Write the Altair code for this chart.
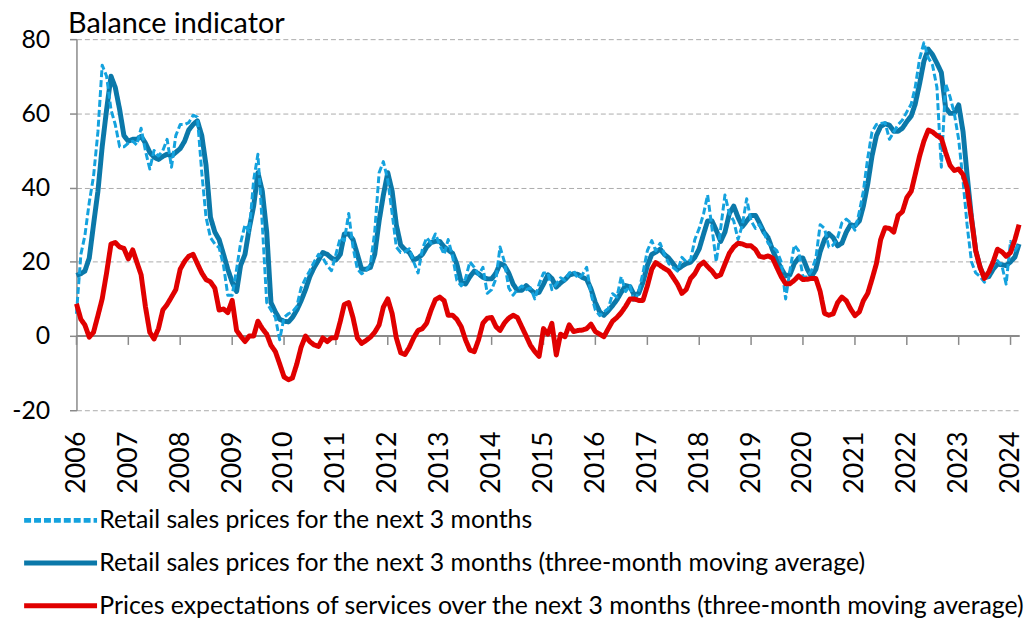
import altair as alt
import pandas as pd

# ---- data (monthly, Jan 2006 - Mar 2024) ----
years = list(range(2006, 2025))
series_labels = [
    "Retail sales prices for the next 3 months",
    "Retail sales prices for the next 3 months (three-month moving average)",
    "Prices expectations of services over the next 3 months (three-month moving average)",
]

retail_raw = [
    6, 22, 27, 36, 43, 55, 73, 70, 61, 57, 51, 51,
    52, 52.5, 51.5, 56, 50, 45, 50, 48.5, 50, 53, 45.5, 54,
    57, 57, 57.5, 59.5, 59, 44, 32, 26.5, 24.8, 23.8, 19, 11,
    11, 18, 25, 30, 28, 42, 49, 30, 9, 7, 5, -1,
    5, 6, 6.5, 8, 13, 15.5, 17.6, 20, 22, 21, 19, 17.6,
    22, 26.5, 25.7, 33, 24, 18, 16.8, 17.6, 19.4, 28, 44, 47,
    42, 33, 24, 22.5, 22.7, 23.5, 20, 17, 23.5, 26.5, 25, 27.5,
    24.5, 22, 26, 21.5, 15, 13.5, 15.5, 20, 18.5, 16.5, 18.5, 11.5,
    12.5, 15.5, 24, 20, 13, 11, 12.5, 13.5, 12.5, 13, 10, 14,
    17, 17, 12.5, 14, 15.7, 15, 17, 17.5, 15.5, 16.5, 18.5, 11.4,
    7, 5.5, 6.5, 7.4, 11.4, 10.5, 16, 12, 13.6, 9, 12, 17,
    23, 25.7, 23, 25, 22, 19.5, 18.5, 17.5, 21.2, 20, 20.5, 26,
    29, 33, 38, 29, 20, 29, 38, 33, 31, 26, 30, 37,
    31, 29, 30, 28, 25, 24, 23, 20, 10, 17.6, 24.5, 23,
    16, 15.9, 17.6, 21, 30, 29, 24, 24.5, 26.5, 30.5, 31.5, 30.5,
    28.5, 33.5, 39, 48, 55, 57, 57.3, 57.5, 53, 55, 57, 58.2,
    60.4, 62.5, 67, 74.7, 79, 75, 73, 67, 45.5, 68, 64.5, 60,
    53, 41.7, 30, 20, 17, 16, 14.5, 16.5, 19, 20.3, 19, 14,
    25.5, 23, 25,
]

retail_ma = [
    16.3, 16.8, 17.5, 21, 30, 39, 51, 61, 70, 67, 61, 54,
    52.5, 53, 53, 53.8, 52, 49.5, 48.2, 47.6, 48.4, 49, 48.5, 49.5,
    50.5, 52.5, 55.5, 57, 58, 54, 46, 32, 28, 26, 22, 18,
    14.5, 12, 19, 22, 29, 35, 44, 39, 28, 9, 6.5, 4.5,
    4, 3.8, 5, 7, 9.5, 12.5, 16, 18.5, 20.5, 22.5, 22, 21,
    20.5, 22, 27.5, 27.5, 26, 22, 18, 18, 18.5, 22, 31, 38,
    44, 39, 30, 24.5, 23.3, 22.5, 20.5, 21, 22, 24, 25.2, 25.5,
    25.5, 24, 23.2, 22.3, 19.4, 14.5, 14, 16, 17.5, 16.8, 15.8, 15.4,
    15.4, 17, 19.5, 19, 17, 14, 12.3, 12.3, 13.6, 12.5, 11.5, 11.8,
    14, 16.5, 15.5, 13.2, 14.3, 15.2, 16.4, 16.8, 16.6, 15.8, 15.3, 12.7,
    9, 6.5, 5.6, 6.8, 8.2, 9.8, 11.8, 13.6, 13.3, 11, 11.5, 14.5,
    19, 22, 22.6, 23.4, 22, 21, 19.5, 18, 18.8, 19.5, 19.9, 21.2,
    23.5, 27.5, 31, 31, 28.5, 25.5, 28, 33, 35, 32, 29.5, 31,
    32.5, 32.5, 30.5, 28, 26.5, 23.2, 20.5, 18.2, 16.2, 16.5, 19.5, 21,
    21, 18, 16, 18, 22.7, 26, 27.6, 26.5, 24.3, 25, 28, 30,
    29.7, 31, 35, 41, 48.5, 54, 56.5, 57.2, 56.8, 55.2, 55.2, 56,
    57.8, 59.3, 62.5, 68, 74, 77.3, 75.8, 73.5, 71, 61.5, 60, 60,
    62.3, 55, 43.5, 32, 23, 18.5, 15.8, 16, 18, 19.4, 19.2, 19,
    20, 21.3, 24.8,
]

services_ma = [
    8.7, 4.5, 3, -0.3, 1, 5.5, 10, 17, 24.8, 25.2, 24, 23.6,
    20.8, 23.2, 20, 16.5, 8, 1, -0.8, 2, 7, 8.5, 10.5, 12.5,
    18, 20.1, 21.5, 22, 19.5, 17, 15.2, 14.6, 12.9, 7, 7.3, 6.3,
    9.6, 1.5, 0, -1.5, 0, 0, 4, 2, 0.5, -2.5, -4.2, -7.5,
    -11, -11.8, -11.3, -7.5, -3, 0, -1.5, -2.4, -2.8, -0.5, -1.5, -0.5,
    -0.5, 4, 8.5, 9, 5, -0.5, -2, -1.2, -0.3, 1, 3, 7.8,
    10, 6, -0.5, -4.5, -5, -3, -0.5, 1.5, 2, 3.5, 7, 9.8,
    10.5, 9.5, 5.6, 5.6, 4.5, 2.5, -1, -3.8, -4.2, -1, 3.5, 4.8,
    5, 2.5, 1.5, 3.5, 4.8, 5.6, 5, 2.5, 0, -2.5, -4.2, -5.5,
    2, 0.5, 3.4, -5.1, 0.5, -0.2, 3, 1.2, 1.5, 1.6, 2, 3.2,
    1.2, 0.5, -0.2, 2, 4, 5, 6.3, 8, 10, 10, 9.6, 9.6,
    13.5, 18, 19.8, 19, 18.2, 17.5, 15.8, 14, 11.5, 12.5, 15.5, 16.8,
    19, 19.9, 18.7, 17.5, 16, 16.5, 19.4, 22.3, 24, 25, 24.8, 24.3,
    24.3, 23.3, 21.5, 21.2, 21.6, 21, 18.5, 16, 14.1, 14.1, 15, 16.2,
    15.2, 15.3, 15.5, 15.5, 12, 6.1, 5.6, 6, 9, 10.5, 9.5, 7.3,
    5.5, 6.5, 9.5, 11.5, 15.3, 19.5, 26, 29.2, 29, 28, 32.5, 33.5,
    37.3, 39, 43.5, 48.5, 52.5, 55.5, 55, 54, 53.3, 49.5, 46, 44.6,
    45, 43.5, 40, 31.5, 23, 18.5, 15.5, 17.3, 20, 23.4, 22.7, 21.5,
    22.5, 26, 30,
]

y_ticks = [-20, 0, 20, 40, 60, 80]

# ---- build table ----
dates = pd.date_range("2006-01-01", periods=len(retail_ma), freq="MS").strftime("%Y-%m-%dT00:00:00")
rows = []
for lab, vals in zip(series_labels, [retail_raw, retail_ma, services_ma]):
    for d, v in zip(dates, vals):
        rows.append({"date": d, "series": lab, "value": v})
df = pd.DataFrame(rows)
tick_df = pd.DataFrame({"date": [f"{y}-01-01T00:00:00" for y in years]})

FONT = "Lato"
colors = ["#14A2DE", "#0B78A9", "#E00000"]
line_widths = [3, 5, 5]
GRAY = "#8A8A8A"

leg = alt.Legend(
    orient="none", legendX=-29, legendY=472, direction="vertical", title=None,
    symbolType="M-3.5,0H3.5", symbolSize=441, symbolStrokeWidth=5,
    labelFontSize=25, labelFont=FONT,
    labelColor="black", labelLimit=2000, labelOffset=26, rowPadding=17,
)

color = alt.Color("series:N", scale=alt.Scale(domain=series_labels, range=colors), legend=leg)
dash = alt.StrokeDash("series:N", scale=alt.Scale(domain=series_labels, range=[[7, 3], [1, 0], [1, 0]]), legend=leg)

x_enc = alt.X(
    "date:T",
    scale=alt.Scale(domain=[alt.DateTime(year=2006, month=1, date=1), alt.DateTime(year=2024, month=3, date=1)]),
    axis=alt.Axis(
        values=[alt.DateTime(year=y, month=1, date=1) for y in years], format="%Y",
        labelAngle=270, labelFontSize=27, labelFont=FONT, labelColor="black",
        grid=False, domain=False, ticks=False, tickSize=0, labelPadding=21, title=None,
    ),
)
y_enc = alt.Y(
    "value:Q",
    scale=alt.Scale(domain=[-20, 80], nice=False, zero=False),
    axis=alt.Axis(
        values=y_ticks, labelExpr="'' + datum.value",
        grid=True, gridDash=[5, 3], gridColor="#ABABAB", gridWidth=1,
        domainColor=GRAY, domainWidth=1.5, tickColor=GRAY, tickSize=7, tickWidth=1.5,
        labelFontSize=25, labelFont=FONT, labelColor="black", labelPadding=20,
        title="Balance indicator", titleAngle=0, titleAlign="left", titleX=-9, titleY=-7,
        titleBaseline="alphabetic", titleFontSize=29, titleFont=FONT,
        titleFontWeight="normal", titleColor="black",
    ),
)

base = alt.Chart(df)
zero_line = alt.Chart(tick_df).mark_rule(color=GRAY, strokeWidth=2).encode(y=alt.datum(0))
year_ticks = alt.Chart(tick_df).mark_rule(color=GRAY, strokeWidth=1.5).encode(
    x=alt.X("date:T"), y=alt.datum(0), y2=alt.datum(-2.4)
)

def series_layer(i):
    lab = series_labels[i]
    return base.transform_filter(alt.datum.series == lab).mark_line(
        strokeJoin="round", strokeWidth=line_widths[i]
    ).encode(x=x_enc, y=y_enc, color=color, strokeDash=dash)

chart = alt.layer(
    zero_line, year_ticks,
    series_layer(1),
    series_layer(0),
    series_layer(2),
).properties(
    width=950, height=374,
    padding={"left": 69, "top": 29, "right": 8, "bottom": 207},
    autosize=alt.AutoSizeParams(type="none"),
    background="white",
).configure_view(stroke=None)

chart.save("out.html", embed_options={"renderer": "svg", "actions": False})
